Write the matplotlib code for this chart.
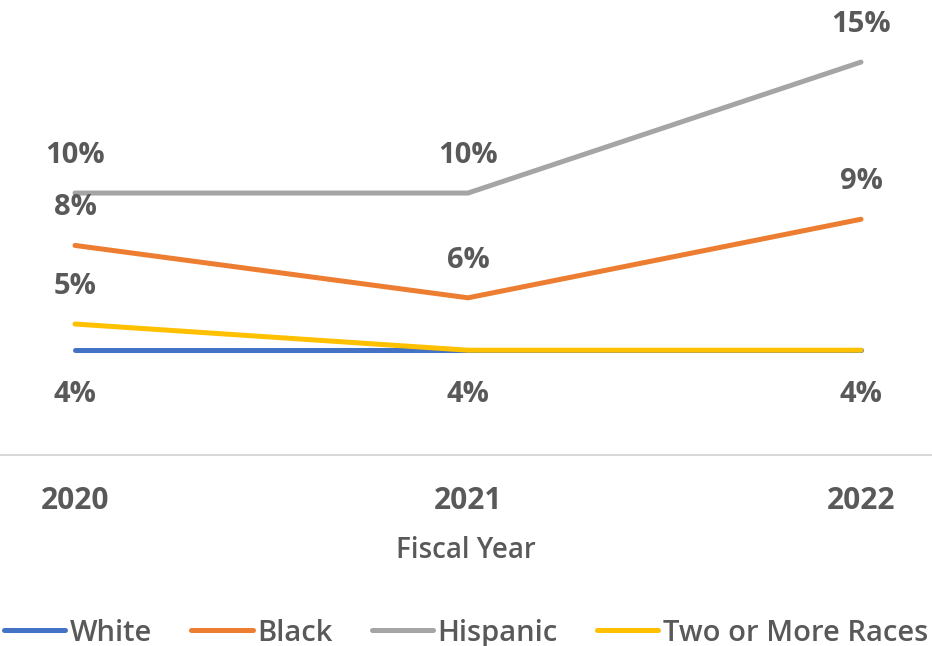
import matplotlib.pyplot as plt

years = ['2020', '2021', '2022']
white = [4, 4, 4]
black = [8, 6, 9]
hispanic = [10, 10, 15]
two_or_more = [5, 4, 4]

series = [
    ('White', white, '#4472C4'),
    ('Black', black, '#ED7D31'),
    ('Hispanic', hispanic, '#A5A5A5'),
    ('Two or More Races', two_or_more, '#FFC000'),
]
# which points get a data label, and where (above / below the line)
label_spots = {
    'White': ['below', 'below', 'below'],
    'Black': ['above', 'above', 'above'],
    'Hispanic': ['above', 'above', 'above'],
    'Two or More Races': ['above', None, None],
}

plt.rcParams['font.family'] = ['Open Sans', 'DejaVu Sans']
txt = '#595959'

fig = plt.figure(figsize=(9.32, 6.46), dpi=100)
ax = fig.add_axes([0, 0.2957, 1, 0.7043])

x = list(range(len(years)))
for name, vals, col in series:
    ax.plot(x, vals, color=col, lw=3.6, solid_capstyle='round', label=name)
    for xi, v, spot in zip(x, vals, label_spots[name]):
        if spot is None:
            continue
        dy = 27 if spot == 'above' else -32
        ax.annotate(f'{v}%', (xi, v), xytext=(0, dy), textcoords='offset points',
                    ha='center', va='center', fontsize=21, fontweight='bold', color=txt)

ax.set_xlim(-75 / 393, 2 + 71 / 393)
ax.set_ylim(0, 17.37)
for s in ['top', 'left', 'right']:
    ax.spines[s].set_visible(False)
ax.spines['bottom'].set_color('#D9D9D9')
ax.spines['bottom'].set_linewidth(1.5)
ax.set_yticks([])
ax.set_xticks(x)
ax.set_xticklabels(years, fontsize=21.5, fontweight='bold', color=txt)
ax.tick_params(axis='x', length=0, pad=22)
ax.set_xlabel('Fiscal Year', fontsize=20, fontweight='semibold', color=txt, labelpad=15)

leg = fig.legend(loc='center', bbox_to_anchor=(0.5, 0.02), ncol=4, frameon=False,
                 handlelength=2.1, handletextpad=0.15, columnspacing=1.35,
                 prop={'size': 21, 'weight': 'semibold'})
for t in leg.get_texts():
    t.set_color(txt)

fig.savefig('out.png', dpi=100)
